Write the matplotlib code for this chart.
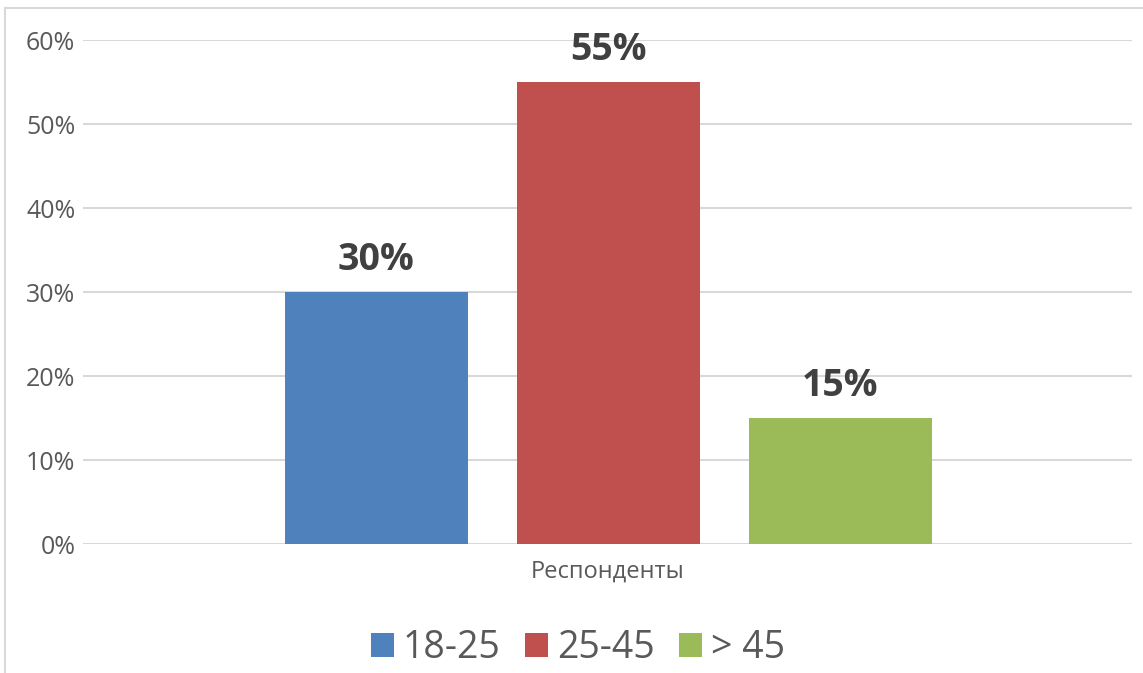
import matplotlib.pyplot as plt
from matplotlib.patches import Rectangle
from matplotlib.ticker import PercentFormatter

plt.rcParams["font.family"] = ["Open Sans", "DejaVu Sans"]

category = "Респонденты"
groups = ["18-25", "25-45", "> 45"]
shares = [0.30, 0.55, 0.15]
colors = ["#4F81BD", "#C0504D", "#9BBB59"]
yticks = [0.0, 0.1, 0.2, 0.3, 0.4, 0.5, 0.6]

W, H = 1143, 673
fig = plt.figure(figsize=(W / 100, H / 100), dpi=100)
ax = fig.add_axes([83 / W, 1 - 544 / H, (1132 - 83) / W, (544 - 40) / H])

# outer chart frame, partly cut off at the right and bottom
fig.patches.append(Rectangle((5 / W, -0.1), 1.2, 1 - 8 / H + 0.1,
                             transform=fig.transFigure, fill=False,
                             edgecolor="#D9D9D9", linewidth=1.5))

positions = [-1, 0, 1]
bar_w = 183 / 232
for x, val, col, name in zip(positions, shares, colors, groups):
    ax.bar(x, val, width=bar_w, color=col, label=name, zorder=3)
    ax.annotate(f"{val:.0%}", (x, val), xytext=(0, 9), textcoords="offset points",
                ha="center", va="bottom", fontsize=27, fontweight="bold",
                color="#404040")

ax.set_xlim((83 - 608) / 232, (1132 - 608) / 232)
ax.set_ylim(0, 0.6)
ax.set_yticks(yticks)
ax.yaxis.set_major_formatter(PercentFormatter(1.0, decimals=0))
ax.tick_params(axis="y", length=0, pad=5.5, labelsize=18, labelcolor="#595959")
ax.set_xticks([0])
ax.set_xticklabels([category])
ax.tick_params(axis="x", length=0, pad=11, labelsize=17, labelcolor="#595959")
ax.grid(axis="y", color="#D9D9D9", linewidth=1.5, zorder=0)
for s in ax.spines.values():
    s.set_visible(False)

fig.legend(loc="center", bbox_to_anchor=(578 / W, 1 - 648 / H), ncol=3,
           frameon=False, fontsize=27, labelcolor="#595959",
           handlelength=0.6, handleheight=0.6, handletextpad=0.25,
           columnspacing=0.65)

fig.savefig("out.png", dpi=100)
